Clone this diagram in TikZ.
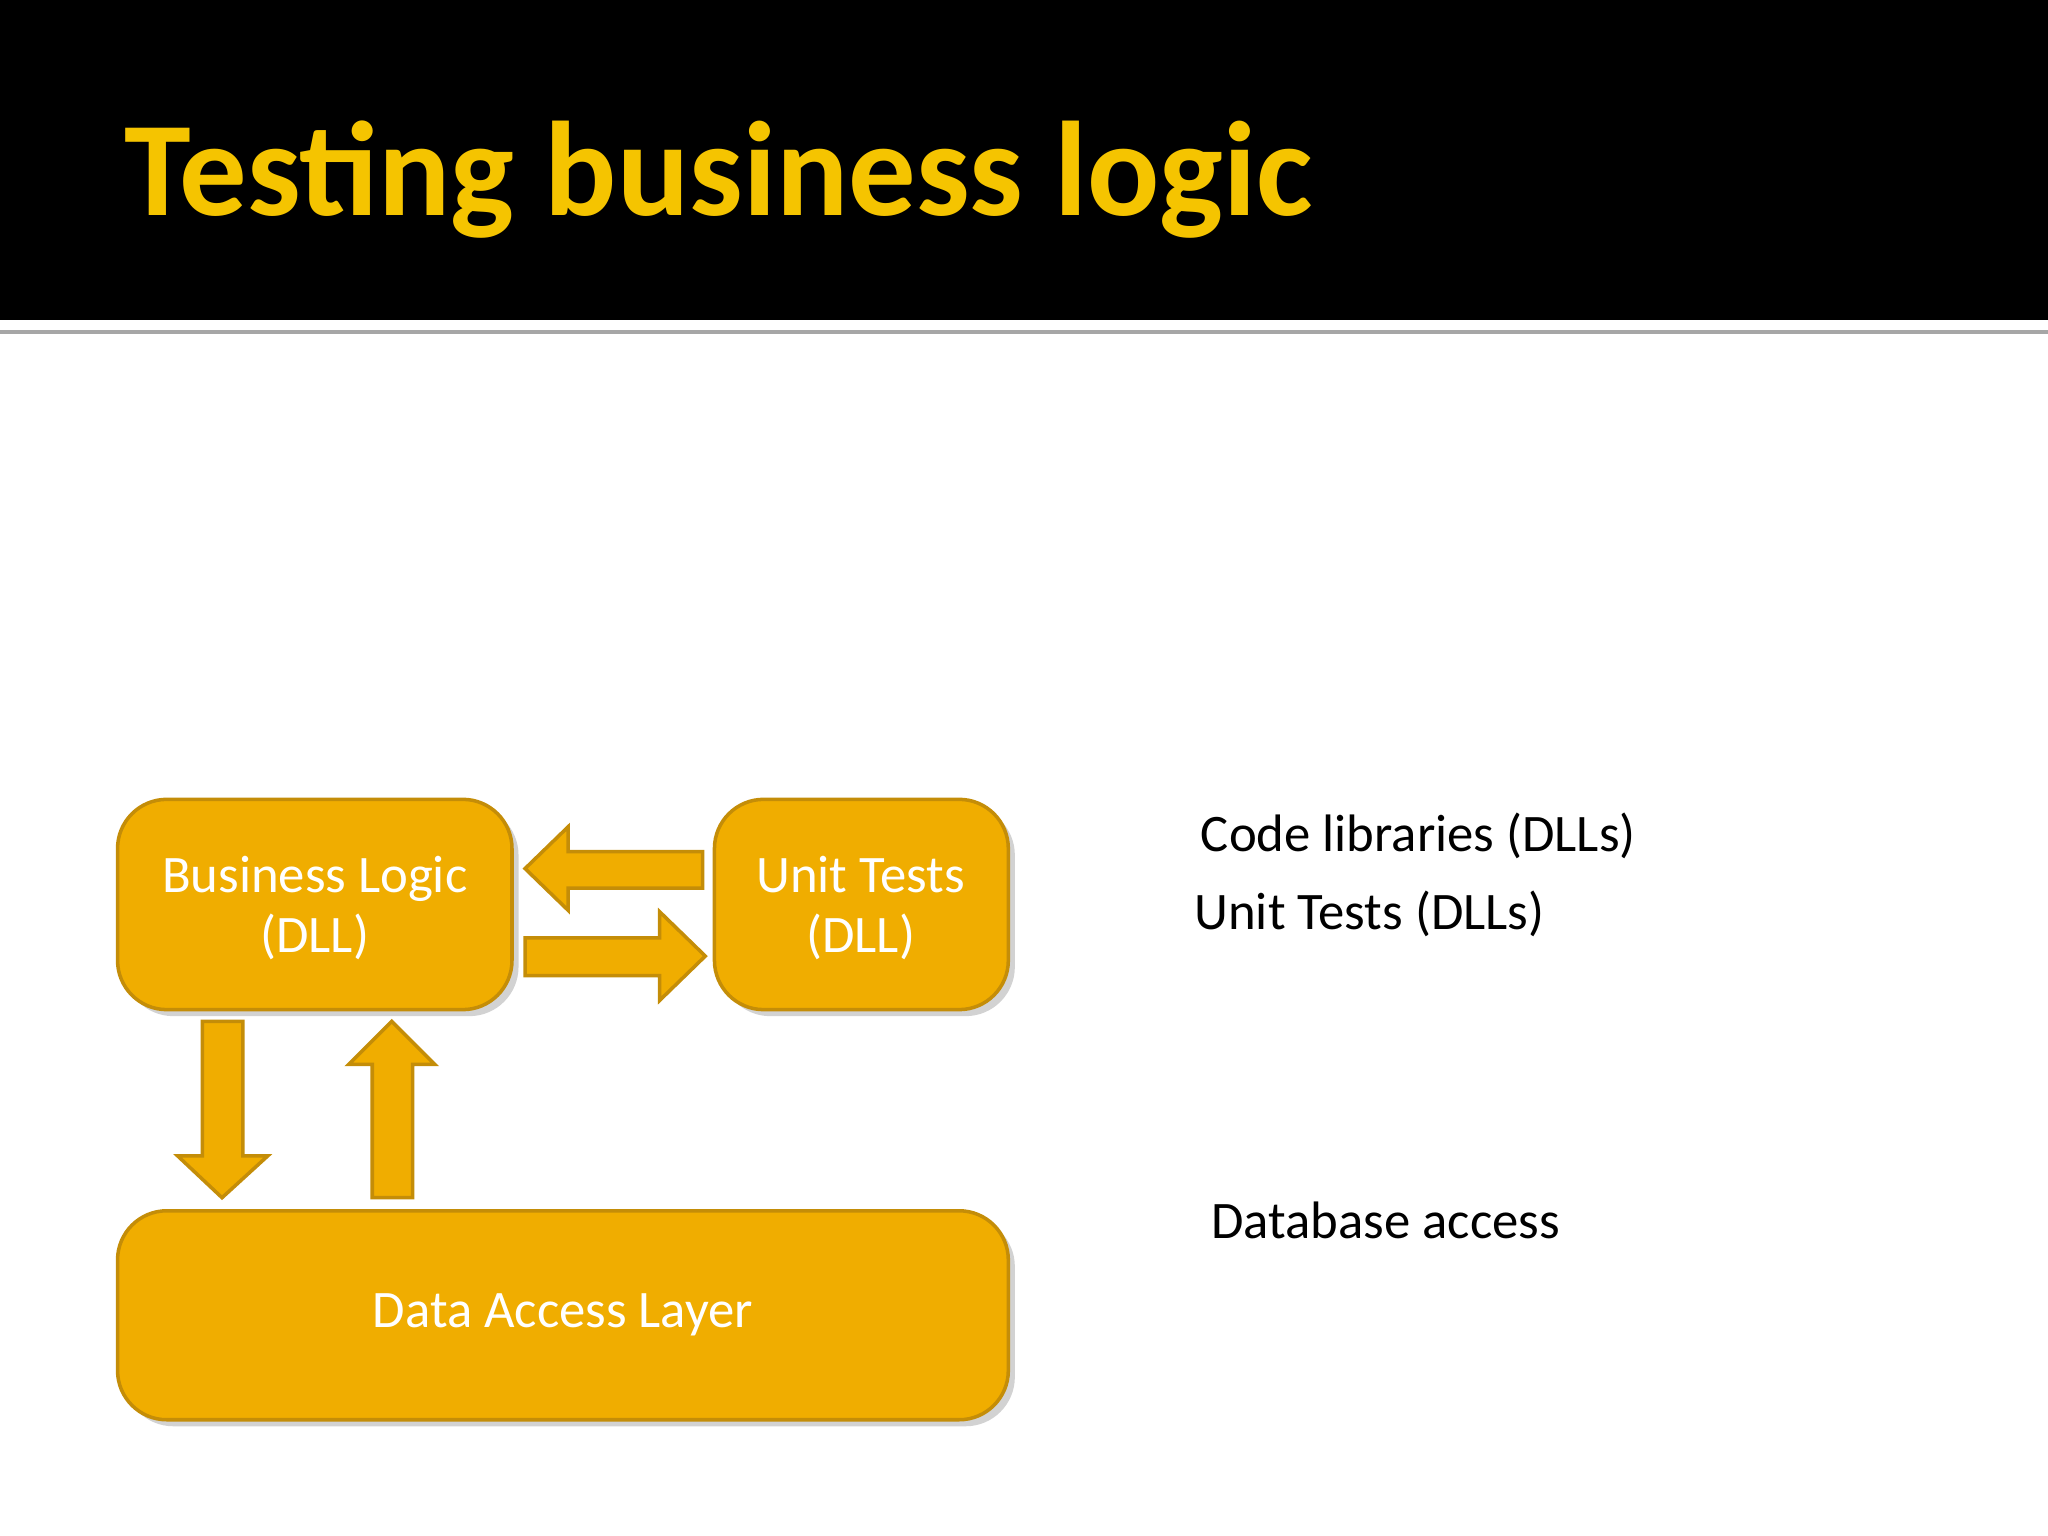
\documentclass[tikz,border=0pt]{standalone}
\usepackage{fontspec}
\setmainfont{Carlito}
\definecolor{gold}{HTML}{F0AD00}
\definecolor{golddark}{HTML}{C48D08}
\definecolor{titleyellow}{HTML}{F5C400}
\begin{document}
\begin{tikzpicture}[x=0.01306cm,y=-0.01306cm,
  box/.style={draw=golddark,line width=1pt,fill=gold,rounded corners=14pt},
  shade/.style={fill=gray!35,rounded corners=14pt},
  lbl/.style={text=white,font=\fontsize{15}{17}\selectfont,align=center},
  side/.style={anchor=west,font=\fontsize{15}{19}\selectfont},
  arr/.style={draw=golddark,line width=1pt,fill=gold,line join=miter}]
\useasboundingbox (0,0) rectangle (1568,1176);
\fill[black] (0,0) rectangle (1568,245);
\draw[gray!70,line width=1.2pt] (0,254) -- (1568,254);
\node[anchor=base west,inner sep=0,text=titleyellow,font=\fontsize{38.3}{42}\selectfont\bfseries] (title) at (95,165) {Testing business logic};
% boxes
\fill[shade] (95,617) rectangle (397,778);
\draw[box] (90,612) rectangle (392,773);
\node[lbl] (bl) at (241,695) {Business Logic\\(DLL)};
\fill[shade] (552,617) rectangle (777,778);
\draw[box] (547,612) rectangle (772,773);
\node[lbl] (ut) at (659,695) {Unit Tests\\(DLL)};
\fill[shade] (95,932) rectangle (777,1092);
\draw[box] (90,927) rectangle (772,1087);
\node[lbl] (dal) at (431,1007) {Data Access Layer};
% arrows
\draw[arr] (538,652) -- (435,652) -- (435,633) -- (402,665) -- (435,697) -- (435,680) -- (538,680) -- cycle;
\draw[arr] (402,718) -- (505,718) -- (505,698) -- (540,732) -- (505,766) -- (505,747) -- (402,747) -- cycle;
\draw[arr] (155,782) -- (186,782) -- (186,885) -- (205,885) -- (170,917) -- (136,885) -- (155,885) -- cycle;
\draw[arr] (285,917) -- (316,917) -- (316,815) -- (333,815) -- (300,782) -- (267,815) -- (285,815) -- cycle;
% side texts
\node[side] (t1) at (910,640) {Code libraries (DLLs)};
\node[side] (t2) at (905,700) {Unit Tests (DLLs)};
\node[side] (t3) at (918,934) {Database access};
\end{tikzpicture}
\end{document}
